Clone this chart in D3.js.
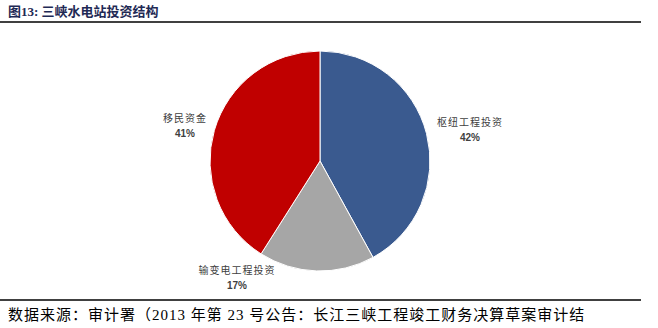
<!DOCTYPE html>
<meta charset="utf-8">
<script src="https://d3js.org/d3.v7.min.js"></script>
<style>
  body { margin: 0; background: #fff; }
</style>
<div id="chart"></div>
<script>
  // data
  var categories = ["枢纽工程投资", "输变电工程投资", "移民资金"];
  var shares = [42, 17, 41];
  var colors = ["#3a5a8f", "#a6a6a6", "#c00000"];
  // label anchor positions (chart coordinates)
  var labelPos = [[470, 126], [237, 274], [185, 122]];

  var width = 658, height = 328;
  var cx = 320, cy = 161, r = 110;

  var svg = d3.select("#chart").append("svg")
    .attr("width", width)
    .attr("height", height);

  // title
  svg.append("text")
    .attr("x", 8).attr("y", 16)
    .style("font-family", "'Liberation Serif', 'Noto Sans CJK SC', serif")
    .style("font-size", "13px")
    .style("font-weight", "bold")
    .style("fill", "#1f2a55")
    .text("图13:  三峡水电站投资结构");

  // top & bottom rules
  svg.append("line").attr("x1", 0).attr("x2", 641).attr("y1", 22).attr("y2", 22)
    .attr("stroke", "#000").attr("stroke-width", 1.5);
  svg.append("line").attr("x1", 0).attr("x2", 641).attr("y1", 300).attr("y2", 300)
    .attr("stroke", "#000").attr("stroke-width", 1.5);

  var pie = d3.pie().sort(null).value(function(d) { return d; });
  var arc = d3.arc().innerRadius(0).outerRadius(r);

  var g = svg.append("g").attr("transform", "translate(" + cx + "," + cy + ")");
  g.selectAll("path")
    .data(pie(shares))
    .enter().append("path")
      .attr("d", arc)
      .attr("fill", function(d, i) { return colors[i]; })
      .attr("stroke", "#fff")
      .attr("stroke-width", 1);

  // labels
  var lab = svg.append("g").selectAll("g")
    .data(categories)
    .enter().append("g")
      .attr("transform", function(d, i) { return "translate(" + labelPos[i][0] + "," + labelPos[i][1] + ")"; });
  lab.append("text")
    .attr("text-anchor", "middle")
    .style("font-family", "'Noto Sans CJK SC', sans-serif")
    .style("font-size", "10px")
    .style("letter-spacing", "1px")
    .style("fill", "#404040")
    .text(function(d) { return d; });
  lab.append("text")
    .attr("text-anchor", "middle")
    .attr("y", 15)
    .style("font-family", "'Liberation Sans', Arial, sans-serif")
    .style("font-size", "10px")
    .style("font-weight", "bold")
    .style("fill", "#404040")
    .text(function(d, i) { return shares[i] + "%"; });

  // source
  svg.append("text")
    .attr("x", 8).attr("y", 320)
    .style("font-family", "'Liberation Serif', 'Noto Sans CJK SC', serif")
    .style("font-size", "15px")
    .style("letter-spacing", "1px")
    .style("fill", "#000")
    .text("数据来源：审计署（2013 年第 23 号公告：长江三峡工程竣工财务决算草案审计结");
</script>
